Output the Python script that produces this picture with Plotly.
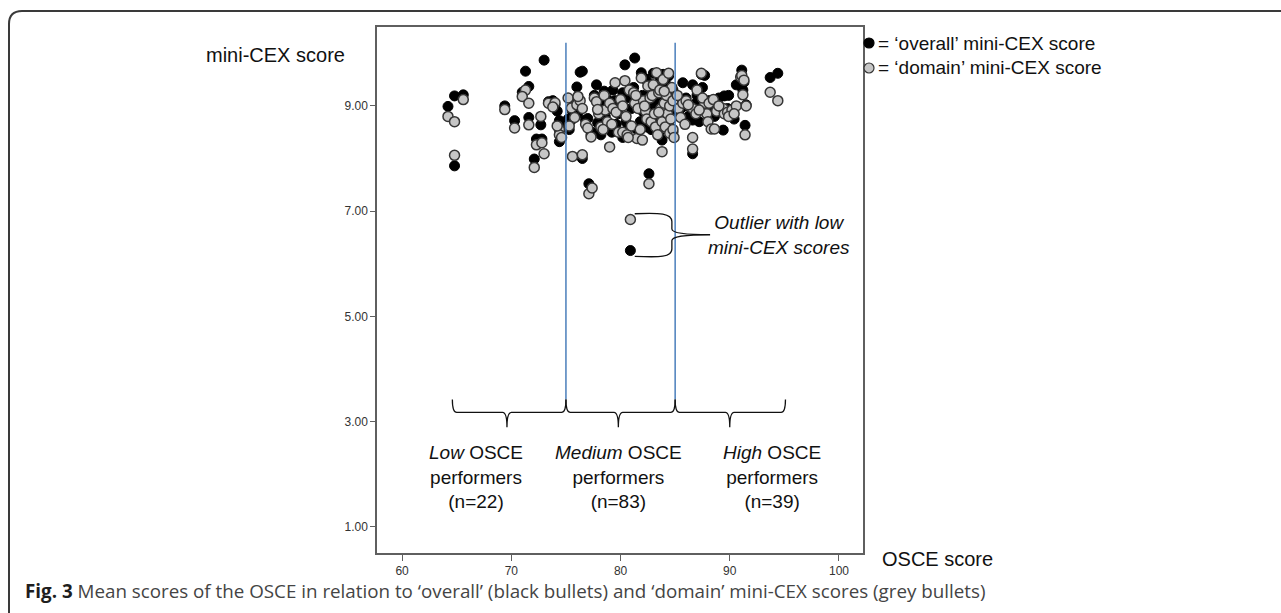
import plotly.graph_objects as go

# ---------------- data ----------------
osce = [
    # low performers (22)
    64.2, 64.8, 64.8, 65.6, 69.4, 70.3, 71.3, 71.0, 71.6, 71.6, 72.1,
    72.3, 72.8, 73.0, 72.7, 73.4, 74.0, 74.4, 74.4, 74.6, 73.8, 74.2,
    # medium performers (83)
    75.2, 75.5, 75.6, 75.8, 76.0, 76.3, 76.5, 76.5, 76.8, 77.0, 77.1, 77.4,
    77.3, 77.6, 77.8, 78.0, 78.2, 78.5, 78.6, 78.8, 79.0, 79.0, 79.3, 79.5,
    79.6, 79.8, 80.0, 80.2, 80.2, 80.4, 80.5, 80.6, 80.8, 80.9, 81.0, 81.2,
    81.3, 81.5, 81.6, 81.8, 81.9, 82.0, 82.1, 82.3, 82.4, 82.5, 82.6, 82.7,
    82.8, 82.9, 83.0, 83.1, 83.2, 83.3, 83.4, 83.5, 83.6, 83.7, 83.8, 83.8,
    83.9, 84.0, 84.1, 84.2, 84.3, 84.4, 84.5, 84.5, 84.6, 84.7, 84.8, 84.8,
    84.9, 75.3, 76.1, 77.9, 78.4, 79.2, 80.7, 81.4, 82.2, 83.5, 84.0,
    # high performers (39)
    85.3, 85.7, 85.5, 86.0, 86.6, 86.6, 86.6, 87.0, 87.4, 87.7, 87.9, 88.0,
    88.3, 88.6, 88.8, 89.4, 89.5, 89.8, 90.2, 90.6, 91.0, 91.1, 91.2, 91.4,
    91.5, 93.7, 94.4, 85.2, 85.9, 86.2, 86.9, 87.2, 87.5, 88.1, 88.5, 89.0,
    89.9, 90.4, 91.3,
]
overall = [
    8.99, 9.19, 7.86, 9.21, 9.00, 8.72, 9.66, 9.26, 9.37, 8.78, 7.99,
    8.37, 8.37, 9.87, 8.64, 9.08, 9.02, 8.72, 8.32, 8.60, 9.10, 8.90,
    8.75, 8.73, 8.90, 9.05, 9.36, 9.64, 9.66, 8.00, 8.73, 8.76, 7.52, 8.50,
    8.45, 9.20, 9.40, 8.95, 8.45, 9.28, 8.80, 9.12, 8.58, 8.95, 9.30, 9.10,
    8.65, 8.85, 9.05, 9.25, 8.40, 9.78, 8.70, 9.15, 9.22, 6.25, 8.95, 9.35,
    9.91, 8.55, 9.10, 8.70, 9.63, 9.20, 8.88, 9.05, 8.60, 9.45, 7.71, 9.28,
    8.55, 8.95, 9.62, 9.10, 8.80, 9.35, 8.65, 9.00, 9.55, 9.22, 8.35, 8.90,
    9.60, 9.12, 8.75, 9.40, 8.98, 9.57, 8.60, 9.25, 8.85, 9.05, 8.50, 9.30,
    8.95, 8.55, 8.85, 8.68, 9.00, 8.50, 8.62, 9.00, 9.52, 8.45, 8.82,
    9.10, 9.44, 8.95, 9.15, 9.40, 8.09, 8.73, 9.20, 9.60, 9.58, 8.87, 9.05,
    8.87, 8.80, 9.00, 8.54, 9.19, 8.95, 8.90, 9.40, 9.38, 9.68, 9.30, 8.63,
    9.02, 9.54, 9.62, 8.85, 9.00, 8.80, 9.05, 8.70, 9.35, 9.10, 8.95, 9.15,
    9.20, 8.75, 9.45,
]
domain = [
    8.80, 8.70, 8.06, 9.12, 8.93, 8.58, 9.30, 9.18, 9.05, 8.64, 7.83,
    8.26, 8.30, 8.09, 8.80, 9.05, 9.06, 8.55, 8.45, 8.40, 8.98, 8.62,
    9.15, 8.96, 8.04, 8.78, 9.02, 9.10, 8.95, 8.07, 8.65, 8.58, 7.33, 7.44,
    8.41, 9.15, 9.08, 8.85, 8.60, 9.20, 8.92, 8.70, 8.22, 9.05, 8.95, 9.44,
    8.88, 8.50, 9.12, 9.00, 8.50, 9.48, 8.80, 8.45, 9.30, 6.84, 8.62, 9.25,
    9.05, 8.38, 8.95, 8.55, 9.53, 8.35, 9.10, 8.90, 8.75, 9.38, 7.52, 9.15,
    8.70, 9.20, 9.40, 8.85, 8.60, 9.63, 8.45, 9.25, 9.30, 8.95, 8.13, 8.70,
    9.50, 9.05, 8.60, 9.20, 8.85, 9.62, 8.48, 9.00, 8.75, 9.35, 8.55, 9.10,
    8.40, 8.62, 9.18, 8.93, 8.55, 8.65, 8.40, 9.20, 9.00, 8.88, 9.28,
    8.95, 9.05, 8.78, 9.10, 8.40, 8.18, 8.95, 9.30, 9.62, 9.05, 8.85, 8.70,
    8.56, 8.56, 8.90, 8.95, 8.85, 8.88, 8.92, 9.00, 9.55, 9.58, 9.21, 8.45,
    9.00, 9.26, 9.10, 9.20, 8.65, 9.02, 8.85, 8.92, 9.15, 9.05, 9.12, 9.00,
    8.80, 8.85, 9.49,
]

x_ticks = [60, 70, 80, 90, 100]
y_ticks = [1, 3, 5, 7, 9]
y_ticklabels = ["1.00", "3.00", "5.00", "7.00", "9.00"]

group_bounds = [(64.6, 75.0), (75.0, 85.0), (85.0, 95.1)]
group_centres = [69.6, 79.8, 90.0]
group_names = ["Low", "Medium", "High"]
group_n = [22, 83, 39]
group_label_x = [66.8, 79.8, 93.9]
cutoffs = [75, 85]

# ---------------- layout geometry (pixels) ----------------
W, H = 1281, 613
L, R, T, B = 377, 863, 27, 553
PW, PH = R - L, B - T


def px(x):
    return (x - L) / PW


def py(y):
    return (B - y) / PH


FONT = "Liberation Sans, Arial, sans-serif"
AXIS_COL = "#5f5f5f"

fig = go.Figure()

fig.add_trace(go.Scatter(
    x=osce, y=overall, mode="markers", name="overall",
    marker=dict(size=10, color="#000000", line=dict(color="#000000", width=1)),
    showlegend=False, hoverinfo="skip",
))
fig.add_trace(go.Scatter(
    x=osce, y=domain, mode="markers", name="domain",
    marker=dict(size=10, color="#c6c6c6", line=dict(color="#353535", width=1.5)),
    showlegend=False, hoverinfo="skip",
))

shapes = []
# blue cut-off lines
for c in cutoffs:
    shapes.append(dict(type="line", xref="x", yref="y", x0=c, x1=c, y0=3.42, y1=10.2,
                       line=dict(color="#4a7ebb", width=1.5)))

# horizontal braces for the groups
ytop, ymid, ybot, r = 3.42, 3.175, 2.89, 0.4
for (a, b), c in zip(group_bounds, group_centres):
    path = (f"M {a},{ytop} Q {a},{ymid} {a + r},{ymid} L {c - r},{ymid} "
            f"Q {c},{ymid} {c},{ybot} Q {c},{ymid} {c + r},{ymid} "
            f"L {b - r},{ymid} Q {b},{ymid} {b},{ytop}")
    shapes.append(dict(type="path", xref="x", yref="y", path=path,
                       line=dict(color="#111111", width=1.3)))

# brace around the outlier
opath = ("M 81.3,6.95 C 83.6,6.97 84.7,6.96 84.7,6.80 L 84.7,6.66 "
         "Q 84.7,6.55 88.2,6.55 Q 84.7,6.55 84.7,6.44 L 84.7,6.28 "
         "C 84.7,6.12 83.6,6.12 81.3,6.14")
shapes.append(dict(type="path", xref="x", yref="y", path=opath,
                   line=dict(color="#111111", width=1.3)))

# outer rounded frame
x9, x22, xr = px(9), px(22), px(1281)
y613, y24, y11 = py(613), py(24), py(11)
shapes.append(dict(type="path", xref="paper", yref="paper",
                   path=f"M {x9},{y613} L {x9},{y24} Q {x9},{y11} {x22},{y11} L {xr},{y11}",
                   line=dict(color="#3a3a3a", width=2)))

# legend symbols
for yy, fill, edge in [(43, "#000000", "#000000"), (68, "#c6c6c6", "#353535")]:
    shapes.append(dict(type="circle", xref="paper", yref="paper",
                       x0=px(864), x1=px(874), y0=py(yy + 5), y1=py(yy - 5),
                       fillcolor=fill, line=dict(color=edge, width=1.2)))

annotations = []
annotations.append(dict(xref="paper", yref="paper", x=px(876), y=py(43), xanchor="left",
                        yanchor="middle", showarrow=False,
                        text="= ‘overall’ mini-CEX score",
                        font=dict(family=FONT, size=19, color="#111111")))
annotations.append(dict(xref="paper", yref="paper", x=px(876), y=py(68), xanchor="left",
                        yanchor="middle", showarrow=False,
                        text="= ‘domain’ mini-CEX score",
                        font=dict(family=FONT, size=19, color="#111111")))
annotations.append(dict(xref="paper", yref="paper", x=px(347), y=py(55), xanchor="right",
                        yanchor="middle", showarrow=False, text="mini-CEX score",
                        font=dict(family=FONT, size=20, color="#111111")))
annotations.append(dict(xref="paper", yref="paper", x=px(880), y=py(559), xanchor="left",
                        yanchor="middle", showarrow=False, text="OSCE score",
                        font=dict(family=FONT, size=20, color="#111111")))
for name, n, gx in zip(group_names, group_n, group_label_x):
    annotations.append(dict(xref="x", yref="y", x=gx, y=1.94, xanchor="center",
                            yanchor="middle", showarrow=False, align="center",
                            text=f"<i>{name}</i> OSCE<br>performers<br>(n={n})",
                            font=dict(family=FONT, size=19, color="#111111")))
annotations.append(dict(xref="x", yref="y", x=94.5, y=6.55, xanchor="center",
                        yanchor="middle", showarrow=False, align="center",
                        text="<i>Outlier with low<br>mini-CEX scores</i>",
                        font=dict(family=FONT, size=19, color="#111111")))
annotations.append(dict(xref="paper", yref="paper", x=px(23), y=py(591), xanchor="left",
                        yanchor="middle", showarrow=False,
                        text=("<b><span style='color:#1e1e1e'>Fig. 3</span></b> Mean scores of the OSCE "
                              "in relation to ‘overall’ (black bullets) and ‘domain’ "
                              "mini-CEX scores (grey bullets)"),
                        font=dict(family="Open Sans, sans-serif", size=18.8, color="#444444")))

fig.update_layout(
    width=W, height=H, autosize=False,
    margin=dict(l=L, r=W - R, t=T, b=H - B, pad=0),
    paper_bgcolor="white", plot_bgcolor="white",
    shapes=shapes, annotations=annotations,
    xaxis=dict(range=[57.7, 102.2], tickvals=x_ticks, ticktext=[str(v) for v in x_ticks],
               showgrid=False, zeroline=False, showline=True, linecolor=AXIS_COL,
               linewidth=1.5, mirror=True, ticks="outside", ticklen=6, tickwidth=1.2,
               tickcolor=AXIS_COL, tickfont=dict(family=FONT, size=12, color="#333333")),
    yaxis=dict(range=[0.5, 10.5], tickvals=y_ticks, ticktext=y_ticklabels,
               showgrid=False, zeroline=False, showline=True, linecolor=AXIS_COL,
               linewidth=1.5, mirror=True, ticks="outside", ticklen=5, tickwidth=1.2,
               tickcolor=AXIS_COL, tickfont=dict(family=FONT, size=12, color="#333333")),
    showlegend=False,
)

fig.write_html(
    "out.html",
    config={"displayModeBar": False},
    post_script="document.body.style.margin='0';document.body.style.overflow='hidden';",
)
